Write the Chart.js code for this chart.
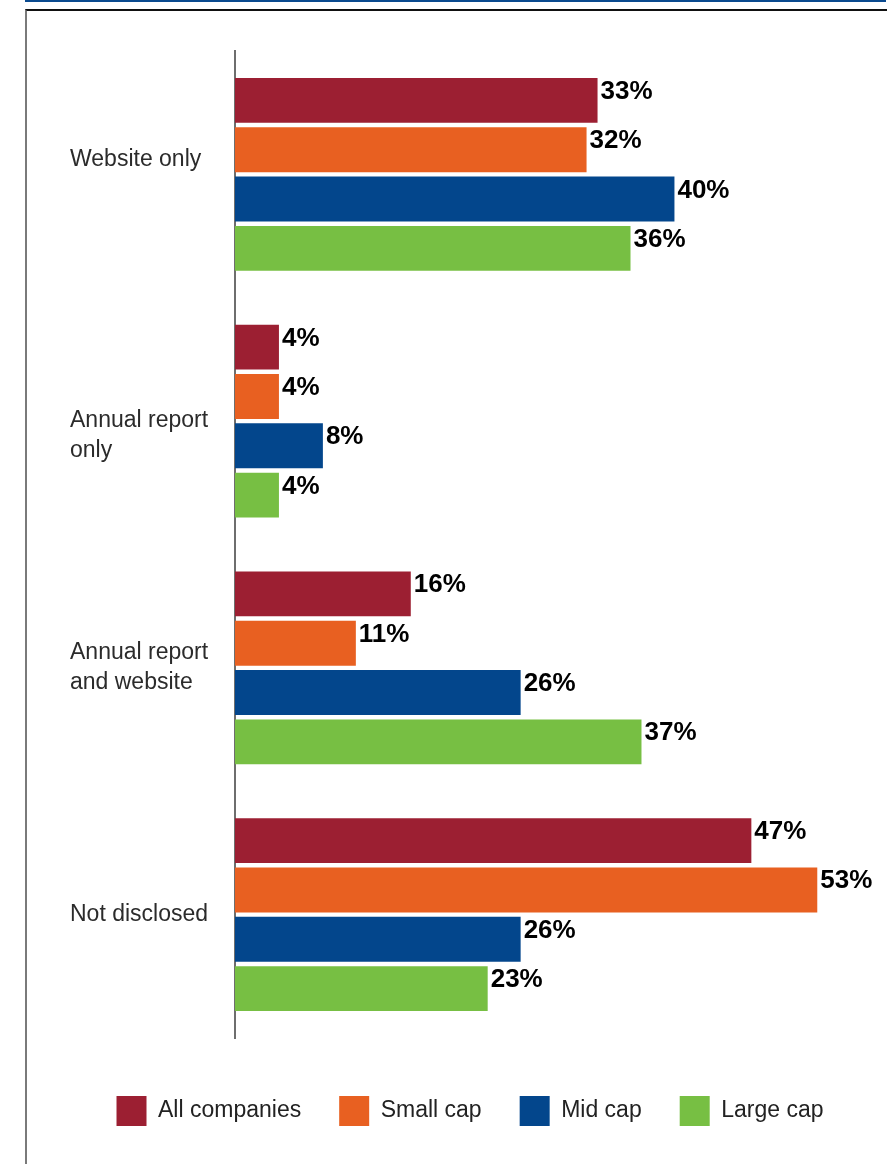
<!DOCTYPE html>
<html>
<head>
<meta charset="utf-8">
<title>Disclosure location by company size</title>
<script src="https://cdn.jsdelivr.net/npm/chart.js@4.4.1/dist/chart.umd.min.js"></script>
<style>
  html, body { margin: 0; padding: 0; background: #ffffff; }
  #wrap { position: relative; width: 887px; height: 1164px; overflow: hidden; }
  #topRule { position: absolute; left: 25px; top: 0; width: 861px; height: 2px; background: #0a4a8f; }
  #frame { position: absolute; left: 25px; top: 9px; right: -4px; bottom: -4px;
           border-left: 2px solid #7a7a7a; border-top: 2px solid #111111; }
  canvas { position: absolute; left: 0; top: 0; }
</style>
</head>
<body>
<div id="wrap">
  <div id="topRule"></div>
  <div id="frame"></div>
  <canvas id="chart" width="887" height="1164"></canvas>
</div>
<script>
// Where companies publish the information, split by company size (percent)
const categories = [
  ['Website only'],
  ['Annual report', 'only'],
  ['Annual report', 'and website'],
  ['Not disclosed']
];
const seriesNames = ['All companies', 'Small cap', 'Mid cap', 'Large cap'];
const allCompanies = [33, 4, 16, 47];
const smallCap     = [32, 4, 11, 53];
const midCap       = [40, 8, 26, 26];
const largeCap     = [36, 4, 37, 23];
const seriesColors = ['#9c1f32', '#e86021', '#03468c', '#77bf43'];

const FONT = '"Liberation Sans", Arial, Helvetica, sans-serif';

// Nudge for each category label: +1 lifts it half a line, -1 drops it half a line
const labelNudge = [1, -1, 0, 0];

// Bold percentage written just past the end of every bar
const valueLabels = {
  id: 'valueLabels',
  afterDatasetsDraw(chart) {
    const ctx = chart.ctx;
    ctx.save();
    ctx.font = 'bold 26px ' + FONT;
    ctx.fillStyle = '#000000';
    ctx.textAlign = 'left';
    ctx.textBaseline = 'alphabetic';
    chart.data.datasets.forEach((ds, i) => {
      const meta = chart.getDatasetMeta(i);
      meta.data.forEach((bar, j) => {
        const top = bar.y - bar.height / 2;
        ctx.fillText(ds.data[j] + '%', bar.x + 3, top + 21);
      });
    });
    ctx.restore();
  }
};

const seriesValues = [allCompanies, smallCap, midCap, largeCap];

new Chart(document.getElementById('chart'), {
  type: 'bar',
  data: {
    labels: categories,
    datasets: seriesNames.map((name, i) => ({
      label: name,
      data: seriesValues[i],
      backgroundColor: seriesColors[i],
      borderWidth: 0,
      categoryPercentage: 0.8,
      barPercentage: 0.91
    }))
  },
  options: {
    indexAxis: 'y',
    responsive: false,
    animation: false,
    layout: { padding: { top: 51, bottom: 28, left: 70, right: 17 } },
    scales: {
      x: {
        min: 0,
        max: 57.8,
        display: true,
        grid: { display: false },
        border: { display: false },
        ticks: { display: false },
        afterFit(scale) { scale.height = 20; }
      },
      y: {
        grid: { display: false, drawTicks: false },
        border: { display: true, color: '#6e6e6e', width: 2 },
        ticks: {
          crossAlign: 'far',
          color: '#2b2b2b',
          padding: 0,
          font: { family: FONT, size: 23, lineHeight: 1.3 },
          callback(value, index) {
            const lines = categories[index].slice();
            if (labelNudge[index] > 0) lines.push('');
            if (labelNudge[index] < 0) lines.unshift('');
            return lines;
          }
        },
        afterFit(scale) { scale.width = 165; }
      }
    },
    plugins: {
      tooltip: { enabled: false },
      legend: {
        position: 'bottom',
        labels: {
          boxWidth: 30,
          boxHeight: 30,
          padding: 38,
          color: '#222222',
          font: { family: FONT, size: 23 }
        }
      }
    }
  },
  plugins: [valueLabels]
});
</script>
</body>
</html>
